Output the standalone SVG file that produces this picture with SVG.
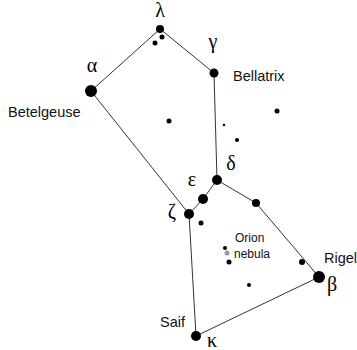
<svg xmlns="http://www.w3.org/2000/svg" width="357" height="350" viewBox="0 0 357 350">
<style>
.ln{stroke:#333;stroke-width:1;fill:none}
.st{fill:#000}
.gr{font-family:"Liberation Serif","DejaVu Serif",serif;font-size:20px;fill:#000;text-anchor:middle}
.lb{font-family:"Liberation Sans",Arial,sans-serif;font-size:14.5px;fill:#111}
.sm{font-family:"Liberation Sans",Arial,sans-serif;font-size:12px;fill:#111}
</style>
<rect width="357" height="350" fill="#fff"/>
<g id="connectors">
<polyline class="ln" points="91,91 160,29 214,73 217,180 203,199 189,214 91,91"/>
<polyline class="ln" points="217,180 256,203 319,277 196,336 189,214"/>
</g>
<g id="alpha"><circle class="st" cx="91" cy="91" r="6"/><text class="gr" x="92" y="72">α</text><text class="lb" x="8" y="117">Betelgeuse</text></g>
<g id="lambda"><circle class="st" cx="160" cy="29" r="4"/><circle class="st" cx="155" cy="43" r="2.5"/><circle class="st" cx="162" cy="37" r="2.5"/><text class="gr" x="160" y="17">λ</text></g>
<g id="gamma"><circle class="st" cx="214" cy="73" r="4.5"/><text class="gr" x="213" y="48">γ</text><text class="lb" x="233" y="81">Bellatrix</text></g>
<g id="delta"><circle class="st" cx="217" cy="180" r="5"/><text class="gr" x="231" y="170">δ</text></g>
<g id="epsilon"><circle class="st" cx="203" cy="199" r="5"/><text class="gr" x="192" y="186">ε</text></g>
<g id="zeta"><circle class="st" cx="189" cy="214" r="5"/><text class="gr" x="172" y="218">ζ</text></g>
<g id="eta"><circle class="st" cx="256" cy="203" r="4"/></g>
<g id="beta"><circle class="st" cx="319" cy="277" r="6"/><text class="gr" x="332" y="291">β</text><text class="lb" x="324" y="263">Rigel</text></g>
<g id="kappa"><circle class="st" cx="196" cy="336" r="5"/><text class="gr" x="212" y="347">κ</text><text class="lb" x="160" y="327">Saif</text></g>
<g id="nebula"><circle class="st" cx="225" cy="248" r="2"/><circle fill="#999" cx="227" cy="253" r="2.5"/><circle class="st" cx="229" cy="262" r="2.5"/><text class="sm" x="235" y="242">Orion</text><text class="sm" x="234" y="258">nebula</text></g>
<g id="field">
<circle class="st" cx="169" cy="121" r="2.5"/>
<circle class="st" cx="224" cy="125" r="1.2"/>
<circle class="st" cx="237" cy="140" r="2"/>
<circle class="st" cx="277" cy="111" r="2.5"/>
<circle class="st" cx="201" cy="223" r="2.5"/>
<circle class="st" cx="302" cy="262" r="3"/>
<circle class="st" cx="249" cy="285" r="2"/>
</g>
</svg>
